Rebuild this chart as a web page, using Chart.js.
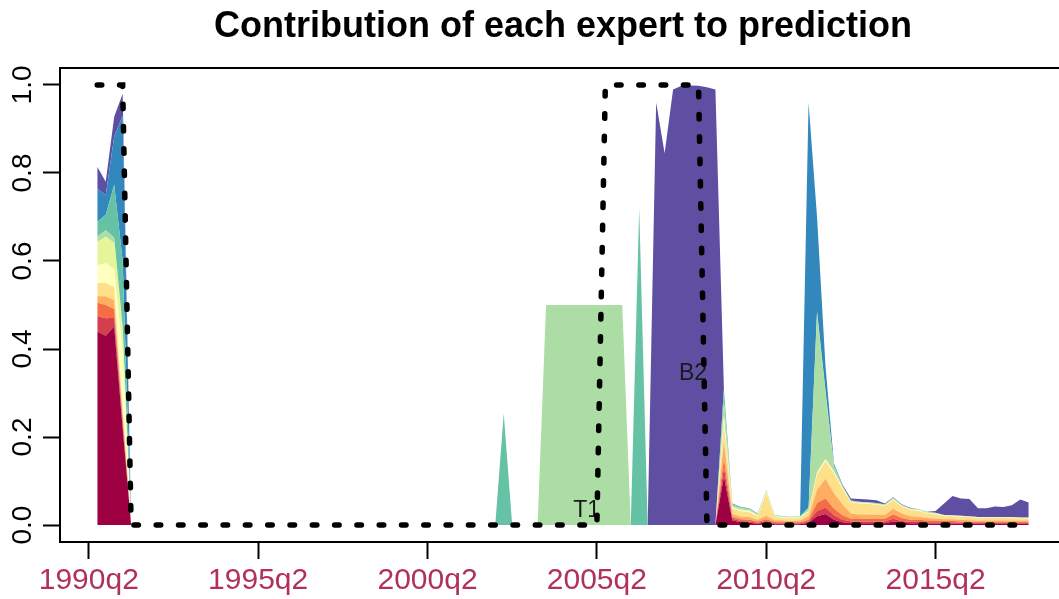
<!DOCTYPE html>
<html>
<head>
<meta charset="utf-8">
<script src="https://cdn.jsdelivr.net/npm/chart.js@4/dist/chart.umd.min.js"></script>
<style>
  html, body { margin: 0; padding: 0; background: #fff; overflow: hidden; }
  #wrap { width: 1075px; height: 599px; }
</style>
</head>
<body>
<div id="wrap"><canvas id="chart" width="1075" height="599"></canvas></div>
<script>
// ============================================
// DATA: quarterly expert weights, 1990q3 .. 2018q1 (111 quarters)
// x = quarters after 1990q2
// ============================================

const firstQuarter = 1;

const tickIndex  = [0, 20, 40, 60, 80, 100];
const tickLabels = ['1990q2', '1995q2', '2000q2', '2005q2', '2010q2', '2015q2'];
const yTicks     = [0, 0.2, 0.4, 0.6, 0.8, 1.0];

const expertNames  = ['E1', 'E2', 'E3', 'E4', 'E5', 'E6', 'E7', 'T1', 'E9', 'E10', 'B2'];
const expertColors = ['#9E0142', '#D53E4F', '#F46D43', '#FDAE61', '#FEE08B', '#FFFFBF',
                      '#E6F598', '#ABDDA4', '#66C2A5', '#3288BD', '#5E4FA2'];

// stacked bottom -> top
const w1 = [.44,.43,.451,.22,0,
  0,0,0,0,0,0,0,0,0,0,0,0,0,0,0,0,0,0,0,0,0,
  0,0,0,0,0,0,0,0,0,0,0,0,0,0,0,0,0,0,0,0,0,
  0,0,0,0,0,0,0,0,0,0,0,0,0,0,0,0,0,0,0,0,0,0,0,0,0,0,0,
  .11,.01,.006,.005,.003,.006,.002,.002,.002,.002,
  .005,.02,.025,.012,.006,.004,.004,.004,.004,.004,
  .008,.005,.004,.004,.003,.003,.003,.003,.003,.003,
  .003,.003,.003,.003,.003,.003,.003];
const w2 = [.035,.04,.02,.01,0,
  0,0,0,0,0,0,0,0,0,0,0,0,0,0,0,0,0,0,0,0,0,
  0,0,0,0,0,0,0,0,0,0,0,0,0,0,0,0,0,0,0,0,0,
  0,0,0,0,0,0,0,0,0,0,0,0,0,0,0,0,0,0,0,0,0,0,0,0,0,0,0,
  .02,.004,.003,.003,.002,.003,.002,.002,.002,.002,
  .003,.012,.015,.01,.006,.004,.004,.004,.004,.004,
  .006,.004,.003,.003,.003,.003,.003,.003,.002,.002,
  .002,.002,.002,.002,.002,.002,.002];
const w3 = [.03,.03,.02,.01,0,
  0,0,0,0,0,0,0,0,0,0,0,0,0,0,0,0,0,0,0,0,0,
  0,0,0,0,0,0,0,0,0,0,0,0,0,0,0,0,0,0,0,0,0,
  0,0,0,0,0,0,0,0,0,0,0,0,0,0,0,0,0,0,0,0,0,0,0,0,0,0,0,
  .02,.005,.004,.004,.003,.004,.003,.002,.002,.002,
  .004,.018,.02,.015,.01,.006,.006,.006,.006,.006,
  .01,.007,.005,.005,.004,.004,.003,.003,.003,.003,
  .002,.002,.002,.002,.002,.002,.002];
const w4 = [.015,.02,.02,.01,0,
  0,0,0,0,0,0,0,0,0,0,0,0,0,0,0,0,0,0,0,0,0,
  0,0,0,0,0,0,0,0,0,0,0,0,0,0,0,0,0,0,0,0,0,
  0,0,0,0,0,0,0,0,0,0,0,0,0,0,0,0,0,0,0,0,0,0,0,0,0,0,0,
  .04,.006,.006,.006,.004,.008,.004,.004,.003,.004,
  .008,.03,.045,.035,.025,.012,.01,.01,.01,.009,
  .013,.01,.008,.007,.006,.005,.004,.004,.004,.003,
  .003,.003,.003,.003,.003,.003,.003];
const w5 = [.03,.03,.03,.02,0,
  0,0,0,0,0,0,0,0,0,0,0,0,0,0,0,0,0,0,0,0,0,
  0,0,0,0,0,0,0,0,0,0,0,0,0,0,0,0,0,0,0,0,0,
  0,0,0,0,0,0,0,0,0,0,0,0,0,0,0,0,0,0,0,0,0,0,0,0,0,0,0,
  .04,.012,.012,.011,.008,.052,.007,.006,.006,.006,
  .01,.035,.04,.045,.035,.025,.025,.024,.022,.02,
  .02,.016,.014,.013,.01,.009,.008,.007,.007,.007,
  .006,.006,.006,.006,.006,.005,.005];
const w6 = [.04,.045,.04,.12,0,
  0,0,0,0,0,0,0,0,0,0,0,0,0,0,0,0,0,0,0,0,0,
  0,0,0,0,0,0,0,0,0,0,0,0,0,0,0,0,0,0,0,0,0,
  0,0,0,0,0,0,0,0,0,0,0,0,0,0,0,0,0,0,0,0,0,0,0,0,0,0,0,
  .01,.002,.002,.002,.001,.002,.001,.001,.001,.001,
  .001,.003,.003,.003,.002,.001,.001,.001,.001,.001,
  .001,.001,.001,.001,.001,.001,.001,.001,.001,.001,
  .001,.001,.001,.001,.001,.001,.001];
const w7 = [.053,.06,.06,.05,0,
  0,0,0,0,0,0,0,0,0,0,0,0,0,0,0,0,0,0,0,0,0,
  0,0,0,0,0,0,0,0,0,0,0,0,0,0,0,0,0,0,0,0,0,
  0,0,0,0,0,0,0,0,0,0,0,0,0,0,0,0,0,0,0,0,0,0,0,0,0,0,0,
  .01,.002,.002,.002,.001,.002,.001,.001,.001,.001,
  .001,.002,.002,.002,.002,.001,.001,.001,.001,.001,
  .001,.001,.001,.001,.001,.001,0,0,0,0,
  0,0,0,0,0,0,0];
const w8 = [.012,.015,.012,.01,0,
  0,0,0,0,0,0,0,0,0,0,0,0,0,0,0,0,0,0,0,0,0,
  0,0,0,0,0,0,0,0,0,0,0,0,0,0,0,0,0,0,0,0,0,
  0,0,0,0,0,0, .5,.5,.5,.5,.5,.5,.5,.5,.5,.5, 0,0,0,0,0,0,0,0,0,0,0,
  .03,.004,.003,.003,.002,.002,.002,.001,.001,.001,
  .005,.36,.15,.01,.002,.001,.001,.001,.001,.001,
  .002,.001,.001,.001,.001,.001,.001,.001,.001,.001,
  .001,.001,.001,.001,.001,.001,.001];
const w9 = [.034,.035,.12,.15,0,
  0,0,0,0,0,0,0,0,0,0,0,0,0,0,0,0,0,0,0,0,0,
  0,0,0,0,0,0,0,0,0,0,0,0,0,0,0,0,0,0,0,0,0,
  0,.254,0,0,0,0, 0,0,0,0,0,0,0,0,0,0, 0,.72,0,0,0,0,0,0,0,0,0,
  .03,.002,.002,.001,.001,.001,.001,.001,.001,.001,
  .003,.005,.005,.003,.001,.001,.001,.001,.001,.001,
  .001,.001,.001,.001,.001,.001,0,0,0,0,
  0,0,0,0,0,0,0];
const w10 = [.075,.045,.11,.33,0,
  0,0,0,0,0,0,0,0,0,0,0,0,0,0,0,0,0,0,0,0,0,
  0,0,0,0,0,0,0,0,0,0,0,0,0,0,0,0,0,0,0,0,0,
  0,0,0,0,0,0,0,0,0,0,0,0,0,0,0,0,0,0,0,0,0,0,0,0,0,0,0,
  0,.001,.001,.001,.001,0,0,0,0,0,
  .92,.215,.055,.005,.001,.001,0,0,0,0,
  0,0,0,0,0,0,0,0,0,0,
  0,0,0,0,0,0,0];
const w11 = [.05,.03,.045,.05,0,
  0,0,0,0,0,0,0,0,0,0,0,0,0,0,0,0,0,0,0,0,0,
  0,0,0,0,0,0,0,0,0,0,0,0,0,0,0,0,0,0,0,0,0,
  0,0,0,0,0,0,0,0,0,0,0,0,0,0,0,0,0,0,0, .96,.845,.99,.998,.999,.998,.995,.99,
  0,.001,0,0,0,0,0,0,0,0,
  0,0,0,0,.002,.004,.006,.006,.006,.002,
  .001,.001,.001,0,0,.004,.026,.044,.039,.039,
  .02,.02,.024,.023,.027,.041,.034];

// 0/1 regime indicator drawn as the dotted line
const regime = [1,1,1,1,0,
  0,0,0,0,0,0,0,0,0,0,0,0,0,0,0,0,0,0,0,0,0,
  0,0,0,0,0,0,0,0,0,0,0,0,0,0,0,0,0,0,0,0,0,
  0,0,0,0,0,0,0,0,0,0,0,0,0, 1,1,1,1,1,1,1,1,1,1,1,1, 0,0,
  0,0,0,0,0,0,0,0,0,0,0,0,0,0,0,0,0,0,0,0,0,0,0,0,0,0,0,0,0,0,0,0,0,0,0,0,0];

// text marks placed on the plot (x in quarters, y in weight)
const noteLabels = ['T1', 'B2'];
const noteX = [58.8, 71.35];
const noteY = [0.032, 0.345];

const weights = [w1, w2, w3, w4, w5, w6, w7, w8, w9, w10, w11];
[...weights, regime].forEach((s, i) => {
    if (s.length !== 111) throw new Error('series ' + i + ' has ' + s.length + ' values');
});

// ============================================
// CHART
// ============================================

const FONT = "'Liberation Sans', Arial, Helvetica, sans-serif";
Chart.defaults.font.family = FONT;

const toPoints = arr => arr.map((v, j) => ({ x: firstQuarter + j, y: v }));

const datasets = weights.map((w, i) => ({
    label: expertNames[i],
    data: toPoints(w),
    backgroundColor: expertColors[i],
    borderColor: 'transparent',
    borderWidth: 0,
    pointRadius: 0,
    tension: 0,
    fill: i === 0 ? 'origin' : '-1',
    stack: 'experts'
}));

datasets.push({
    label: 'regime',
    data: toPoints(regime),
    borderColor: '#000',
    borderWidth: 5.5,
    borderDash: [4.5, 17.8],
    borderCapStyle: 'round',
    pointRadius: 0,
    tension: 0,
    fill: false,
    stack: 'regime',
    order: -1
});
const regimeIndex = datasets.length - 1;

// box around the plot region
const frame = {
    id: 'frame',
    afterDatasetsDraw(chart) {
        const { ctx, chartArea: a } = chart;
        ctx.save();
        ctx.strokeStyle = '#000';
        ctx.lineWidth = 2;
        ctx.strokeRect(a.left, a.top, a.right - a.left, a.bottom - a.top);
        ctx.restore();
    }
};

// T1 / B2 text, under the dotted line
const notes = {
    id: 'notes',
    beforeDatasetDraw(chart, args) {
        if (args.index !== regimeIndex) return;
        const { ctx, scales: { x, y } } = chart;
        ctx.save();
        ctx.font = '23px ' + FONT;
        ctx.fillStyle = '#1a1a1a';
        ctx.textAlign = 'center';
        ctx.textBaseline = 'middle';
        noteLabels.forEach((t, i) => {
            ctx.fillText(t, x.getPixelForValue(noteX[i]), y.getPixelForValue(noteY[i]));
        });
        ctx.restore();
    }
};

new Chart(document.getElementById('chart'), {
    type: 'line',
    data: { datasets },
    plugins: [notes, frame],
    options: {
        responsive: false,
        animation: false,
        devicePixelRatio: 1,
        layout: { padding: { left: 0, right: 9, top: 0, bottom: 0 } },
        plugins: {
            legend: { display: false },
            tooltip: { enabled: false },
            title: {
                display: true,
                text: 'Contribution of each expert to prediction',
                fullSize: false,
                color: '#000',
                font: { size: 36, weight: 'bold' },
                padding: { top: 5, bottom: 19.8 }
            }
        },
        scales: {
            x: {
                type: 'linear',
                min: -3.4,
                max: 115.4,
                border: { display: false },
                grid: { drawOnChartArea: false, drawTicks: true, tickLength: 17, tickWidth: 2, tickColor: '#000' },
                afterBuildTicks: s => { s.ticks = tickIndex.map(v => ({ value: v })); },
                afterFit: s => { s.height = 57; },
                ticks: {
                    color: '#B03060',
                    font: { size: 30 },
                    padding: 4,
                    maxRotation: 0,
                    autoSkip: false,
                    callback: v => tickLabels[tickIndex.indexOf(v)]
                }
            },
            y: {
                stacked: true,
                min: -0.0386,
                max: 1.0386,
                border: { display: false },
                grid: { drawOnChartArea: false, drawTicks: true, tickLength: 17, tickWidth: 2, tickColor: '#000' },
                afterBuildTicks: s => { s.ticks = yTicks.map(v => ({ value: v })); },
                afterFit: s => { s.width = 60; },
                ticks: {
                    color: '#000',
                    font: { size: 28 },
                    padding: 0,
                    minRotation: 90,
                    maxRotation: 90,
                    crossAlign: 'center',
                    callback: v => v.toFixed(1)
                }
            }
        }
    }
});
</script>
</body>
</html>
